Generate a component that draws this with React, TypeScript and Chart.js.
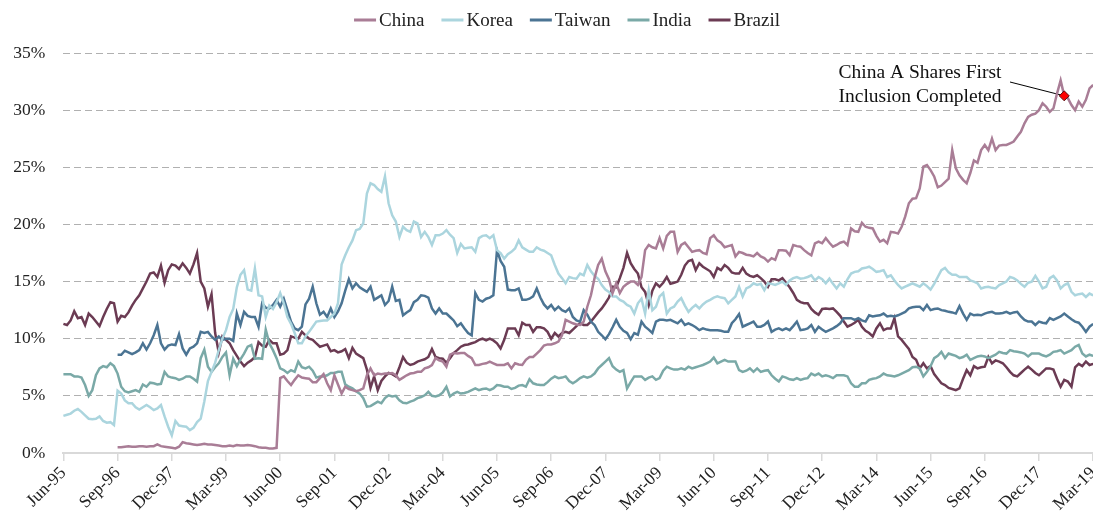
import React, { useEffect, useRef } from 'react';
import { Chart, registerables } from 'chart.js';

Chart.register(...registerables);

// ---- Data ----
const MONTH_NAMES = ['Jan', 'Feb', 'Mar', 'Apr', 'May', 'Jun', 'Jul', 'Aug', 'Sep', 'Oct', 'Nov', 'Dec'];
const FIRST_YEAR = 1995;
const FIRST_MONTH = 5; // June
const MONTH_COUNT = 286; // Jun-95 .. Mar-19
const categories: string[] = Array.from({ length: MONTH_COUNT }, (_, i) => {
  const m = (FIRST_MONTH + i) % 12;
  const y = FIRST_YEAR + Math.floor((FIRST_MONTH + i) / 12);
  return `${MONTH_NAMES[m]}-${String(y % 100).padStart(2, '0')}`;
});
const TICK_EVERY = 15; // Jun-95, Sep-96, Dec-97, ...

const CHINA_START = 15;
const china = [
  0.5, 0.5, 0.55, 0.6, 0.55,
  0.55, 0.6, 0.6, 0.55, 0.6, 0.6, 0.75, 0.6, 0.55, 0.5,
  0.45, 0.4, 0.55, 0.95, 0.85, 0.8, 0.75, 0.7, 0.75, 0.8,
  0.75, 0.75, 0.7, 0.65, 0.6, 0.6, 0.65, 0.6, 0.7, 0.65,
  0.65, 0.7, 0.65, 0.6, 0.5, 0.45, 0.45, 0.4, 0.4, 0.45,
  6.55, 6.7, 6.3, 5.95, 6.4, 6.8, 6.6, 6.55, 6.5, 6.2,
  6.2, 6.55, 6.9, 6.1, 5.5, 6.8, 6.0, 5.2, 5.8, 5.6,
  5.5, 5.4, 5.5, 5.65, 6.8, 7.4, 6.8, 6.95, 6.9, 6.95,
  6.95, 7.0, 6.8, 6.4, 6.6, 6.8, 6.95, 7.0, 7.1, 7.1,
  7.4, 7.5, 7.7, 8.3, 8.1, 8.0, 7.55, 8.6, 8.75, 8.7,
  8.75, 8.75, 8.5, 8.3, 7.7, 7.7, 7.8, 7.85, 8.0, 7.85,
  7.7, 7.7, 7.7, 7.85, 7.4, 7.85, 7.75, 7.7, 8.15, 8.4,
  8.4, 8.7, 9.0, 9.4, 9.5, 9.5, 9.6, 9.75, 10.3, 11.65,
  11.5, 11.35, 11.25, 11.2, 11.5, 12.8, 13.8, 15.3, 16.45, 17.0,
  15.9, 15.2, 14.0, 14.85, 14.0, 14.55, 14.8, 15.0, 15.0, 14.7,
  15.4, 17.75, 18.2, 18.0, 17.9, 18.8, 17.9, 19.0, 19.35, 19.35,
  17.6, 18.2, 18.4, 18.0, 17.6, 17.7, 17.75, 17.5, 17.4, 18.8,
  19.05, 18.6, 18.4, 18.0, 18.1, 18.2, 17.2, 17.6, 17.5, 17.35,
  17.3, 17.2, 17.5, 17.2, 17.05, 16.75, 17.05, 16.9, 17.75, 17.75,
  17.7, 17.3, 18.2, 18.1, 18.05, 17.75, 17.5, 17.3, 18.35, 18.5,
  18.35, 18.8, 18.4, 18.05, 18.2, 18.4, 18.5, 18.2, 19.65, 19.4,
  19.35, 20.15, 19.8, 19.7, 19.65, 19.0, 18.5, 18.65, 18.35, 19.35,
  19.3, 19.2, 19.8, 20.7, 21.85, 22.25, 22.3, 23.15, 25.05, 25.2,
  24.75, 24.2, 23.25, 23.4, 23.7, 24.0, 26.5, 24.9, 24.3, 23.9,
  23.6, 24.5, 25.6, 25.4, 26.5, 26.95, 26.5, 27.5, 26.5, 26.9,
  26.95, 26.95, 27.1, 27.25, 27.7, 28.1, 28.85, 29.4, 29.6, 29.7,
  30.0, 30.6, 30.3, 29.85, 30.15, 31.45, 32.6, 31.25, 31.05, 30.45,
  30.0, 30.75, 30.3, 30.9, 31.9, 32.2,
];

const korea = [
  3.25, 3.35, 3.45, 3.7, 3.85, 3.6, 3.3, 3.0, 2.95, 3.0,
  3.2, 2.8, 2.65, 2.7, 2.45, 5.45, 5.2, 4.6, 4.35, 4.35,
  4.0, 3.8, 4.0, 4.2, 4.0, 3.75, 3.9, 4.2, 3.2, 2.3,
  1.55, 2.8, 2.4, 2.35, 2.3, 2.0, 2.2, 2.7, 3.0, 4.5,
  6.3, 7.1, 7.9, 9.0, 10.0, 10.75, 11.9, 12.6, 14.5, 15.6,
  16.0, 14.3, 14.2, 16.15, 13.8, 13.7, 11.9, 12.9, 12.6, 13.2,
  14.0, 13.1, 11.9, 11.3, 10.5, 9.6, 9.6, 10.2, 10.6, 11.05,
  11.5, 11.55, 11.6, 11.6, 11.9, 12.2, 13.1, 16.5, 17.3, 18.0,
  18.6, 19.5, 19.6, 20.1, 22.7, 23.6, 23.45, 23.1, 22.85, 24.2,
  21.85, 20.8, 20.25, 18.9, 19.8, 19.5, 19.35, 20.25, 20.1, 18.9,
  19.35, 18.9, 18.2, 19.05, 19.05, 19.2, 19.5, 19.1, 18.8, 17.5,
  18.3, 17.9, 17.95, 18.0, 17.6, 18.8, 19.0, 19.05, 18.8, 19.05,
  17.75, 17.5, 17.0, 17.4, 17.6, 17.9, 18.6, 18.0, 17.8, 17.6,
  17.6, 18.0, 17.8, 17.7, 17.5, 17.3, 16.45, 15.7, 15.3, 14.85,
  15.4, 15.3, 15.25, 15.7, 15.55, 16.45, 15.9, 15.5, 15.25, 14.7,
  14.3, 14.1, 13.7, 13.7, 13.4, 13.25, 12.95, 12.8, 12.2, 13.1,
  13.5, 12.2, 14.25, 12.5, 12.8, 13.7, 14.0, 12.2, 12.65, 12.8,
  13.25, 13.55, 12.9, 12.35, 12.7, 12.95, 12.65, 13.0, 13.25, 13.4,
  13.6, 13.7, 13.6, 13.55, 13.1, 13.4, 13.7, 14.55, 13.7, 14.4,
  14.55, 14.85, 14.7, 14.8, 14.25, 14.85, 14.8, 14.7, 14.85, 15.0,
  14.7, 15.1, 15.3, 15.4, 15.25, 15.3, 15.4, 15.55, 15.1, 15.4,
  15.2, 14.85, 15.25, 14.8, 14.4, 14.85, 14.55, 15.2, 15.7, 15.85,
  15.9, 16.15, 16.2, 16.3, 16.1, 15.85, 15.9, 16.0, 15.4, 15.55,
  15.1, 14.7, 14.4, 14.55, 14.7, 14.85, 14.7, 14.55, 14.85, 14.6,
  14.3, 14.8, 15.4, 16.0, 16.2, 15.8, 15.6, 15.6, 15.4, 15.4,
  15.4, 15.1, 15.0, 14.85, 14.4, 14.5, 14.55, 14.45, 14.4, 14.7,
  14.85, 15.0, 15.4, 15.3, 15.1, 14.8, 14.55, 14.9, 15.0, 15.5,
  15.0, 14.4, 14.55, 15.3, 15.5, 15.1, 14.4, 14.7, 14.85, 14.1,
  13.8, 13.9, 13.95, 13.65, 13.95, 13.8,
];

const TAIWAN_START = 15;
const taiwan = [
  8.6, 8.6, 8.95, 8.8, 8.65,
  8.8, 9.0, 9.6, 9.05, 9.6, 10.3, 11.2, 9.6, 9.05, 9.4,
  9.5, 9.45, 10.4, 9.15, 8.6, 9.15, 9.3, 9.6, 10.6, 10.5,
  10.6, 10.2, 9.9, 10.2, 9.9, 10.0, 10.0, 9.8, 12.2, 11.2,
  12.35, 12.0, 11.9, 11.9, 11.05, 13.1, 12.7, 12.65, 12.95, 13.4,
  12.8, 13.5, 12.5, 11.5, 10.9, 10.75, 11.05, 13.0, 13.5, 14.55,
  13.1, 12.1, 12.35, 11.9, 12.65, 11.9, 12.4, 13.1, 14.2, 15.2,
  14.4, 14.85, 14.5, 14.3, 14.1, 14.55, 13.4, 13.6, 13.8, 12.95,
  13.3, 14.55, 13.3, 13.4, 12.05, 12.3, 12.5, 13.2, 13.4, 13.8,
  13.75, 13.6, 12.65, 12.2, 12.65, 12.2, 12.2, 11.9, 11.6, 11.1,
  11.35, 10.9, 10.5, 10.3, 14.0, 13.4, 13.25, 13.5, 13.6, 13.8,
  17.75, 16.8, 16.3, 14.3, 14.25, 14.25, 14.4, 13.4, 13.4, 13.5,
  13.7, 14.4, 13.6, 13.0, 12.65, 12.95, 12.5, 12.8, 12.5, 12.35,
  12.65, 11.9, 11.6, 11.5, 12.5, 12.1, 11.5, 11.2, 10.6, 10.3,
  9.95, 10.4, 11.0, 11.65, 11.05, 10.7, 10.5, 9.95, 10.5, 10.35,
  11.5, 11.05, 10.8, 10.5, 11.5, 11.65, 11.65, 11.6, 11.65, 11.5,
  11.35, 11.65, 11.2, 11.35, 11.2, 11.0, 10.75, 10.9, 10.8, 10.75,
  10.75, 10.75, 10.7, 10.6, 10.6, 11.35, 11.7, 12.15, 11.05, 11.2,
  11.35, 11.5, 11.05, 11.05, 11.2, 11.5, 10.6, 10.8, 10.9, 10.75,
  10.9, 10.75, 11.1, 11.5, 10.75, 10.8, 10.9, 11.2, 10.6, 11.05,
  10.8, 10.6, 10.75, 10.9, 11.1, 11.35, 11.8, 11.8, 11.8, 11.65,
  11.8, 11.6, 11.5, 12.05, 11.95, 12.0, 12.05, 12.2, 11.95, 12.0,
  11.95, 12.05, 12.2, 12.35, 12.65, 12.75, 12.8, 12.8, 12.5, 12.95,
  12.5, 12.6, 12.65, 12.5, 12.45, 12.35, 12.3, 12.2, 12.85, 12.2,
  11.65, 12.2, 12.05, 12.1, 12.05, 12.2, 12.3, 12.35, 12.2, 12.2,
  12.25, 12.35, 12.2, 12.3, 12.35, 11.95, 11.65, 11.5, 11.5, 11.2,
  11.5, 11.4, 11.35, 11.8, 11.65, 11.8, 11.95, 12.2, 11.95, 11.7,
  11.5, 11.4, 11.05, 10.6, 11.05, 11.3,
];

const india = [
  6.9, 6.9, 6.9, 6.7, 6.7, 6.6, 5.95, 5.0, 5.5, 6.8,
  7.4, 7.6, 7.5, 7.85, 7.6, 6.95, 5.8, 5.4, 5.3, 5.4,
  5.5, 5.35, 6.0, 5.8, 6.15, 6.1, 6.0, 6.05, 7.1, 6.7,
  6.6, 6.55, 6.4, 6.5, 6.7, 6.7, 6.5, 6.25, 8.3, 9.05,
  7.55, 7.1, 7.5, 7.85, 8.4, 8.8, 6.8, 8.25, 7.6, 8.2,
  8.7, 9.3, 9.45, 8.25, 8.3, 8.25, 10.8, 9.6, 9.0, 8.3,
  7.4, 7.25, 7.0, 7.25, 7.1, 8.0, 7.5, 7.4, 7.55, 7.2,
  6.6, 6.7, 6.7, 6.8, 7.0, 7.0, 7.1, 7.1, 6.0, 5.8,
  5.65, 5.4, 5.2, 4.8, 4.05, 4.1, 4.3, 4.5, 4.35, 4.8,
  5.05, 4.95, 5.0, 4.6, 4.4, 4.35, 4.5, 4.6, 4.8, 4.9,
  5.05, 5.35, 5.0, 4.95, 5.05, 5.3, 5.8, 4.95, 5.2, 5.35,
  5.2, 5.25, 5.35, 5.5, 5.65, 5.5, 5.6, 5.65, 5.5, 5.65,
  5.95, 5.9, 5.8, 5.8, 5.6, 5.7, 5.9, 5.95, 5.8, 6.45,
  6.1, 6.0, 5.95, 5.95, 6.2, 6.5, 6.7, 6.55, 6.6, 6.7,
  6.3, 6.1, 6.3, 6.55, 6.7, 6.6, 6.7, 6.95, 7.4, 7.7,
  8.0, 8.3, 7.6, 7.3, 7.1, 7.25, 5.65, 6.2, 6.7, 6.7,
  6.7, 6.4, 6.6, 6.7, 6.4, 6.55, 7.2, 7.55, 7.4, 7.3,
  7.3, 7.4, 7.3, 7.55, 7.4, 7.5, 7.6, 7.7, 7.85, 8.0,
  8.35, 7.85, 8.0, 8.15, 8.0, 8.0, 8.0, 7.25, 7.1, 7.2,
  7.4, 7.1, 7.4, 7.1, 7.2, 7.25, 6.8, 6.5, 6.25, 6.7,
  6.6, 6.45, 6.4, 6.55, 6.4, 6.5, 6.55, 6.95, 6.8, 6.95,
  6.7, 6.8, 6.7, 6.55, 6.8, 6.8, 6.8, 6.7, 6.1, 5.8,
  5.8, 6.1, 6.1, 6.4, 6.5, 6.55, 6.7, 6.95, 6.8, 6.75,
  6.7, 6.8, 6.95, 7.1, 7.25, 7.5, 7.55, 7.4, 6.7, 7.1,
  7.6, 8.3, 8.5, 8.85, 8.3, 8.7, 8.6, 8.5, 8.3, 8.4,
  8.6, 8.15, 8.3, 8.45, 8.5, 8.45, 8.3, 8.45, 8.6, 8.85,
  8.75, 8.7, 9.0, 8.9, 8.85, 8.8, 8.7, 8.45, 8.7, 8.7,
  8.7, 8.55, 8.45, 8.6, 8.85, 8.9, 9.0, 8.7, 8.85, 9.0,
  9.3, 9.45, 8.7, 8.45, 8.6, 8.5,
];

const brazil = [
  11.3, 11.2, 11.6, 12.4, 11.8, 11.9, 11.2, 12.2, 11.9, 11.5,
  11.1, 11.9, 12.6, 13.2, 13.1, 11.5, 12.0, 11.9, 12.3, 12.9,
  13.4, 13.8, 14.4, 15.0, 15.7, 15.8, 15.4, 16.4, 14.9, 16.0,
  16.5, 16.4, 16.1, 16.6, 16.2, 15.7, 16.5, 17.5, 15.0, 14.4,
  12.8, 13.9, 10.5, 8.8, 10.2, 9.9, 9.6, 9.0, 8.5, 8.0,
  7.6, 7.9, 8.1, 8.4, 9.7, 9.4, 9.3, 9.9, 9.6, 9.6,
  8.6, 8.7, 9.0, 10.2, 10.1, 10.0, 10.6, 10.3, 10.0, 9.9,
  9.6, 9.3, 9.4, 9.5, 8.9, 9.0, 8.8, 8.9, 9.1, 8.3,
  9.2, 8.7, 8.5, 8.3, 7.3, 5.7, 6.7, 5.5, 6.3, 6.7,
  7.0, 6.9, 6.7, 7.5, 8.4, 7.9, 7.7, 7.8, 8.0, 8.1,
  8.2, 8.4, 9.1, 8.4, 8.3, 8.25, 7.9, 8.3, 8.75, 9.0,
  9.3, 9.45, 9.5, 9.6, 9.7, 9.9, 10.0, 9.85, 10.0, 9.85,
  9.6, 9.15, 9.9, 10.9, 10.9, 10.9, 10.3, 11.4, 11.2, 11.2,
  10.6, 11.0, 11.0, 10.9, 10.6, 10.0, 10.5, 10.2, 10.5, 10.6,
  10.5, 10.8, 11.1, 11.35, 11.2, 11.2, 11.5, 11.9, 12.3, 12.65,
  13.1, 13.6, 14.55, 14.5, 15.3, 16.2, 17.5, 16.6, 16.1, 15.7,
  14.5, 14.1, 12.95, 14.2, 14.85, 14.55, 14.9, 15.4, 14.8, 14.9,
  15.0, 15.6, 16.4, 16.8, 16.9, 16.0, 16.6, 16.3, 16.1, 15.9,
  15.4, 16.2, 16.0, 16.45, 16.2, 15.8, 15.7, 15.7, 16.2, 15.7,
  15.5, 15.4, 15.55, 15.3, 15.0, 14.55, 15.2, 15.2, 15.1, 15.3,
  14.9, 14.5, 14.0, 13.4, 13.2, 13.1, 13.1, 12.6, 12.3, 12.1,
  12.6, 12.65, 12.6, 12.65, 12.35, 12.0, 11.5, 11.05, 11.2, 11.4,
  11.65, 11.05, 10.7, 10.5, 10.2, 10.9, 11.35, 10.75, 10.9, 10.9,
  11.8, 10.2, 9.9, 9.5, 9.1, 8.4, 8.15, 7.4, 7.85, 7.4,
  7.6, 6.9, 6.5, 6.1, 5.95, 5.7, 5.6, 5.5, 5.65, 6.5,
  7.25, 6.8, 7.6, 7.4, 7.5, 7.55, 8.4, 7.85, 8.1, 8.0,
  7.85, 7.5, 7.1, 6.8, 6.7, 7.0, 7.3, 7.55, 7.3, 7.0,
  6.8, 7.1, 7.4, 7.4, 7.3, 6.5, 5.8, 6.4, 6.25, 5.8,
  7.5, 7.8, 7.6, 8.0, 7.7, 7.8,
];

const yTicks = [0, 5, 10, 15, 20, 25, 30, 35];

const ANNOTATION_INDEX = 277; // China A shares first inclusion completed
const annotationLines = ['China A Shares First', 'Inclusion Completed'];

// ---- Styling ----
const COLORS = {
  china: '#a97d96',
  korea: '#abd5de',
  taiwan: '#4b7493',
  india: '#7aa9a7',
  brazil: '#6b3b53',
};
const FONT_FAMILY = '"Liberation Serif", "DejaVu Serif", serif';
const TEXT_COLOR = '#222222';

const W = 1110;
const H = 517;

function pad(start: number, arr: number[]): (number | null)[] {
  return [...Array(start).fill(null), ...arr];
}

const legendPlugin = {
  id: 'topLegend',
  afterDraw(chart: any) {
    const ctx = chart.ctx as CanvasRenderingContext2D;
    ctx.save();
    ctx.font = `19px ${FONT_FAMILY}`;
    ctx.textBaseline = 'middle';
    ctx.textAlign = 'left';
    const items = chart.data.datasets.map((d: any) => ({ label: d.label as string, color: d.borderColor as string }));
    const lineW = 22;
    const gapLT = 3;
    const gapItem = 17;
    const widths = items.map((it: any) => ctx.measureText(it.label).width);
    const total =
      widths.reduce((a: number, w: number) => a + lineW + gapLT + w, 0) + gapItem * (items.length - 1);
    const cx = 567;
    const cy = 20;
    let x = cx - total / 2;
    items.forEach((it: any, i: number) => {
      ctx.fillStyle = it.color;
      ctx.fillRect(x, cy - 1.5, lineW, 3);
      x += lineW + gapLT;
      ctx.fillStyle = TEXT_COLOR;
      ctx.fillText(it.label, x, cy + 1);
      x += widths[i] + gapItem;
    });
    ctx.restore();
  },
};

const annotationPlugin = {
  id: 'inclusionNote',
  beforeDatasetsDraw(chart: any) {
    const meta = chart.getDatasetMeta(0);
    const el = meta.data[ANNOTATION_INDEX];
    if (!el) return;
    const ctx = chart.ctx as CanvasRenderingContext2D;
    ctx.save();
    ctx.strokeStyle = '#000';
    ctx.lineWidth = 1;
    ctx.beginPath();
    ctx.moveTo(1010, 82);
    ctx.lineTo(el.x, el.y);
    ctx.stroke();
    ctx.restore();
  },
  afterDraw(chart: any) {
    const ctx = chart.ctx as CanvasRenderingContext2D;
    ctx.save();
    ctx.font = `19.5px ${FONT_FAMILY}`;
    ctx.fillStyle = '#111';
    ctx.textAlign = 'center';
    ctx.textBaseline = 'alphabetic';
    ctx.fillText(annotationLines[0], 920, 78);
    ctx.fillText(annotationLines[1], 920, 102);
    ctx.restore();
  },
};

export default function App() {
  const canvasRef = useRef<HTMLCanvasElement | null>(null);

  useEffect(() => {
    if (!canvasRef.current) return;
    const line = (label: string, data: (number | null)[], color: string, extra: any = {}) => ({
      label,
      data,
      borderColor: color,
      backgroundColor: color,
      borderWidth: 2.5,
      pointRadius: 0,
      pointHoverRadius: 0,
      tension: 0,
      spanGaps: false,
      ...extra,
    });

    const chart = new Chart(canvasRef.current, {
      type: 'line',
      data: {
        labels: categories,
        datasets: [
          line('China', pad(CHINA_START, china), COLORS.china, {
            pointRadius: (c: any) => (c.dataIndex === ANNOTATION_INDEX ? 5 : 0),
            pointStyle: 'rectRot',
            pointBackgroundColor: '#ff0000',
            pointBorderColor: '#5a1010',
            pointBorderWidth: 1,
          }),
          line('Korea', korea, COLORS.korea),
          line('Taiwan', pad(TAIWAN_START, taiwan), COLORS.taiwan),
          line('India', india, COLORS.india),
          line('Brazil', brazil, COLORS.brazil),
        ],
      },
      options: {
        responsive: false,
        animation: false,
        layout: { padding: { top: 53, left: 0, right: W - 1097.1, bottom: 0 } },
        plugins: {
          legend: { display: false },
          tooltip: { enabled: false },
        },
        scales: {
          x: {
            type: 'category',
            offset: false,
            afterBuildTicks: (axis: any) => {
              axis.ticks = axis.ticks.filter((t: any) => t.value % TICK_EVERY === 0);
            },
            afterFit: (axis: any) => {
              axis.height = H - 453;
            },
            ticks: {
              autoSkip: false,
              minRotation: 45,
              maxRotation: 45,
              color: TEXT_COLOR,
              padding: 2,
              font: { family: FONT_FAMILY, size: 17.5 },
            },
            grid: {
              display: true,
              drawOnChartArea: false,
              drawTicks: true,
              tickLength: 8,
              color: '#d9d9d9',
              lineWidth: 1.5,
            },
            border: { display: true, color: '#d9d9d9', width: 2 },
          },
          y: {
            min: 0,
            max: 35,
            afterBuildTicks: (axis: any) => {
              axis.ticks = yTicks.map((v) => ({ value: v }));
            },
            afterFit: (axis: any) => {
              axis.width = 63.4;
            },
            ticks: {
              stepSize: 5,
              padding: 18,
              color: TEXT_COLOR,
              font: { family: FONT_FAMILY, size: 17.5 },
              callback: (v: any) => `${v}%`,
            },
            grid: {
              color: '#b0b0b0',
              lineWidth: 1,
              drawTicks: false,
            },
            border: { display: false, dash: [7, 4] },
          },
        },
      },
      plugins: [legendPlugin, annotationPlugin],
    });

    return () => chart.destroy();
  }, []);

  return (
    <div
      style={{
        position: 'absolute',
        left: 0,
        top: 0,
        width: 1093,
        height: H,
        overflow: 'hidden',
        background: '#fff',
      }}
    >
      <canvas ref={canvasRef} width={W} height={H} style={{ display: 'block', width: W, height: H }} />
    </div>
  );
}
